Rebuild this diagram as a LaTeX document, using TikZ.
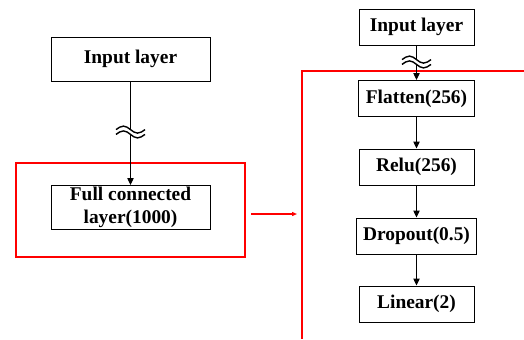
\documentclass[tikz,border=0pt]{standalone}
\usepackage{fontspec}
\setmainfont{Liberation Serif}
\usepackage{tikz}
\usetikzlibrary{arrows.meta}
\definecolor{zoom_red}{RGB}{255, 0, 0}
\tikzstyle{big}=[rectangle,draw=black,fill=white,line width=0.5pt,
  minimum width=79.5pt,minimum height=22pt,inner sep=0pt,align=center,
  font=\fontsize{9.7}{11.5}\selectfont\bfseries]
\tikzstyle{small}=[rectangle,draw=black,fill=white,line width=0.5pt,
  minimum width=57.5pt,minimum height=18pt,inner xsep=3.5pt,inner ysep=0pt,
  font=\fontsize{9.7}{11.5}\selectfont\bfseries]
\tikzstyle{flow}=[line width=0.5pt,-{Triangle[length=3.5pt,width=3.2pt]}]
\tikzstyle{zoom}=[draw=zoom_red,line width=0.65pt]
\tikzstyle{none}=[]
% wavy break across a connector
\newcommand{\cutmark}[1]{%
  \begin{scope}[shift={(#1)}]
    \draw[white,line width=2.2pt] (-14.5,0) sin (-7,-3.5) cos (0,0) sin (7,3.5) cos (14.5,0);
    \draw[line width=0.7pt] (-14.5,-2.4) sin (-7,-5.9) cos (0,-2.4) sin (7,1.1) cos (14.5,-2.4);
    \draw[line width=0.7pt] (-14.5,2.4) sin (-7,-1.1) cos (0,2.4) sin (7,5.9) cos (14.5,2.4);
  \end{scope}}

\begin{document}
\begin{tikzpicture}[x=0.5pt,y=-0.5pt]
        \useasboundingbox (0,0) rectangle (524,339);
        % left: whole network
        \draw [style=zoom] (16,163) rectangle (245,257);
        \node [style=big] (0) at (130.5,59) {Input layer};
        \node [style=big] (1) at (130.5,207.5) {Full connected\\layer(1000)};
        \coordinate (b0) at (130.5,132);
        \draw [style=flow] (0) to (1);
        \cutmark{b0}
        % zoom arrow
        \coordinate (z0) at (251,214);
        \coordinate (z1) at (297,214);
        \draw [style=zoom,-{Triangle[length=2.5pt,width=2pt]}] (z0) to (z1);
        % right: replaced head
        \coordinate (f0) at (524,71);
        \coordinate (f1) at (302,71);
        \coordinate (f2) at (302,339);
        \draw [style=zoom] (f0) -- (f1) -- (f2);
        \node [style=small] (2) at (416.5,27) {Input layer};
        \node [style=small] (3) at (416.5,98.5) {Flatten(256)};
        \node [style=small] (4) at (416.5,167) {Relu(256)};
        \node [style=small] (5) at (416.5,236) {Dropout(0.5)};
        \node [style=small] (6) at (416.5,304) {Linear(2)};
        \coordinate (b1) at (416.5,62);
        \draw [style=flow] (2) to (3);
        \cutmark{b1}
        \draw [style=flow] (3) to (4);
        \draw [style=flow] (4) to (5);
        \draw [style=flow] (5) to (6);
\end{tikzpicture}
\end{document}
